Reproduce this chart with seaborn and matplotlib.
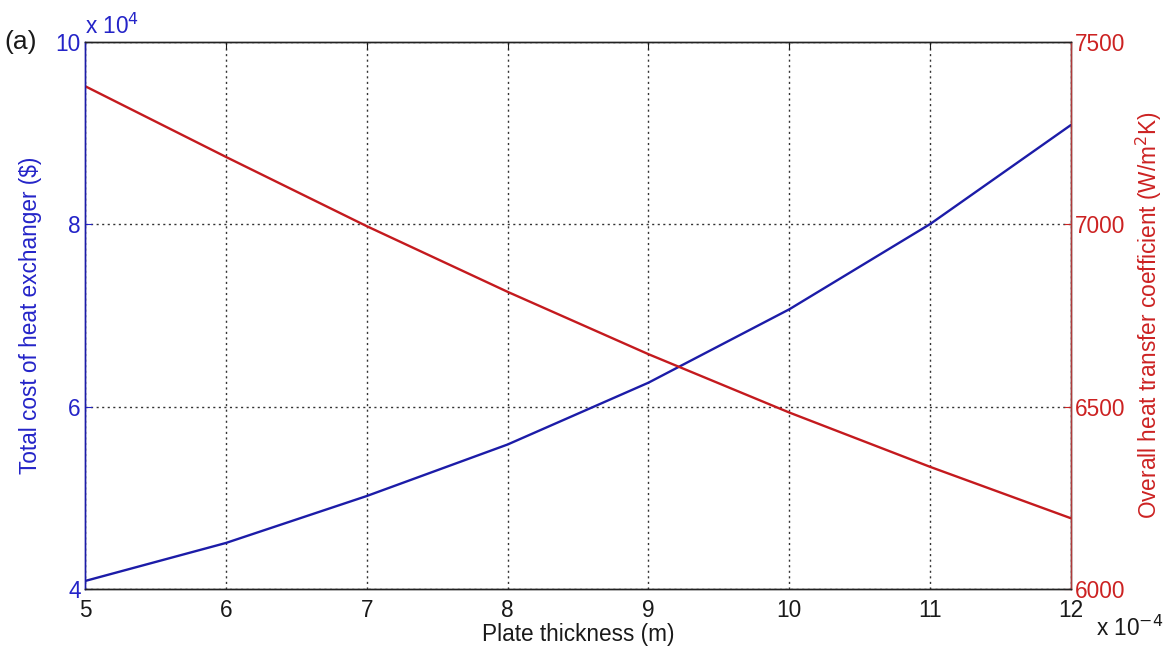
import numpy as np
import pandas as pd
import matplotlib
matplotlib.use("Agg")
import matplotlib.pyplot as plt
from matplotlib.ticker import FixedLocator, FuncFormatter
import seaborn as sns

# Plate thickness (m)
thickness = [5e-4, 6e-4, 7e-4, 8e-4, 9e-4, 10e-4, 11e-4, 12e-4]
# Total cost of heat exchanger ($)
total_cost = [40880, 45050, 50200, 55850, 62630, 70680, 80030, 90900]
# Overall heat transfer coefficient (W/m^2K)
u_overall = [7379, 7185, 6995, 6815, 6644, 6484, 6335, 6194]

x_ticks = [5e-4, 6e-4, 7e-4, 8e-4, 9e-4, 10e-4, 11e-4, 12e-4]
cost_ticks = [40000, 60000, 80000, 100000]
u_ticks = [6000, 6500, 7000, 7500]

df = pd.DataFrame({"thickness": thickness, "cost": total_cost, "U": u_overall})

sns.set_style("white")
plt.rcParams["font.family"] = ["Liberation Sans", "DejaVu Sans"]

FS = 16.3
BLUE_LINE = "#1c1ca8"
BLUE_TXT = "#2424c8"
RED_LINE = "#c41a1e"
RED_TXT = "#cc2222"

fig = plt.figure(figsize=(11.66, 6.47), dpi=100)
ax = fig.add_axes([0.0729, 0.0896, 0.8456, 0.8455])
ax2 = ax.twinx()

sns.lineplot(data=df, x="thickness", y="cost", ax=ax, color=BLUE_LINE, lw=1.7)
sns.lineplot(data=df, x="thickness", y="U", ax=ax2, color=RED_LINE, lw=1.7)

ax.set_xlim(5e-4, 12e-4)
ax.set_ylim(40000, 100000)
ax2.set_ylim(6000, 7500)

ax.xaxis.set_major_locator(FixedLocator(x_ticks))
ax.xaxis.set_major_formatter(FuncFormatter(lambda v, p: f"{v / 1e-4:.0f}"))
ax.yaxis.set_major_locator(FixedLocator(cost_ticks))
ax.yaxis.set_major_formatter(FuncFormatter(lambda v, p: f"{v / 1e4:.0f}"))
ax2.yaxis.set_major_locator(FixedLocator(u_ticks))

ax.grid(True, linestyle=(0, (1.5, 2.5)), color="#333333", linewidth=1.0)
ax.set_axisbelow(True)

ax.tick_params(axis="x", direction="in", length=5, top=True, labelsize=FS,
               colors="#1a1a1a", pad=7)
ax.tick_params(axis="y", direction="in", length=5, labelsize=FS,
               colors=BLUE_TXT, pad=3)
ax2.tick_params(axis="y", direction="in", length=5, labelsize=FS,
                colors=RED_TXT, pad=3)

for a in (ax, ax2):
    for s in a.spines.values():
        s.set_linewidth(1.0)
        s.set_color("#222222")
ax2.spines["left"].set_color(BLUE_LINE)
ax.spines["left"].set_color(BLUE_LINE)
ax2.spines["right"].set_color("#b03a3a")

ax.set_xlabel("Plate thickness (m)", fontsize=FS, color="#1a1a1a", labelpad=1)
ax.set_ylabel("Total cost of heat exchanger ($)", fontsize=FS, color=BLUE_TXT,
              labelpad=10)
ax2.set_ylabel("Overall heat transfer coefficient (W/m$^2$K)", fontsize=FS,
               color=RED_TXT, labelpad=6)

# Axis multipliers
ax.text(0.0, 1.006, r"x 10$^{4}$", transform=ax.transAxes, fontsize=FS,
        color=BLUE_TXT, ha="left", va="bottom")
ax.text(1.025, -0.048, r"x 10$^{-4}$", transform=ax.transAxes, fontsize=FS,
        color="#1a1a1a", ha="left", va="top")

fig.text(0.004, 0.935, "(a)", fontsize=19, color="#1a1a1a", ha="left", va="center")

fig.savefig("out.png", dpi=100, facecolor="white")
